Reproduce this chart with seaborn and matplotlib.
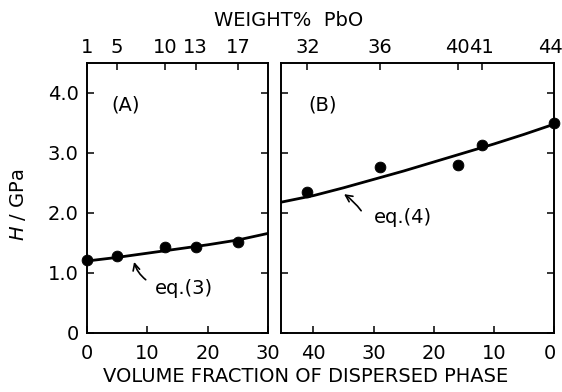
import matplotlib
matplotlib.use("Agg")
import matplotlib.pyplot as plt
import matplotlib.transforms as mtransforms
import pandas as pd
import seaborn as sns

# style: plain black-on-white, ticks pointing in
sns.set_theme(style="ticks", rc={
    "axes.edgecolor": "black",
    "axes.linewidth": 1.2,
    "xtick.color": "black",
    "ytick.color": "black",
    "text.color": "black",
    "axes.labelcolor": "black",
})
plt.rcParams['font.family'] = ['DejaVu Sans']

# --- data: panel A ---
a_vol = [0, 5, 13, 18, 25]
a_h = [1.21, 1.28, 1.43, 1.43, 1.51]
a_curve_x = [0, 5, 10, 15, 20, 25, 30]
a_curve_y = [1.20, 1.26, 1.33, 1.40, 1.47, 1.55, 1.66]
a_wt_pos = [0, 5, 13, 18, 25]
a_wt_labels = ['1', '5', '10', '13', '17']
a_xticks = [0, 10, 20, 30]

# --- data: panel B ---
b_vol = [41, 29, 16, 12, 0]
b_h = [2.35, 2.76, 2.80, 3.13, 3.50]
b_curve_x = [45.4, 40, 35, 30, 25, 20, 15, 10, 5, 0]
b_curve_y = [2.18, 2.29, 2.42, 2.56, 2.70, 2.85, 3.00, 3.15, 3.31, 3.48]
b_wt_pos = [41, 29, 16, 12, 0]
b_wt_labels = ['32', '36', '40', '41', '44']
b_xticks = [40, 30, 20, 10, 0]

yticks = [0, 1.0, 2.0, 3.0, 4.0]
ytick_labels = ['0', '1.0', '2.0', '3.0', '4.0']

pts_a = pd.DataFrame({'vol': a_vol, 'H': a_h})
fit_a = pd.DataFrame({'vol': a_curve_x, 'H': a_curve_y})
pts_b = pd.DataFrame({'vol': b_vol, 'H': b_h})
fit_b = pd.DataFrame({'vol': b_curve_x, 'H': b_curve_y})

fs = 14
fig = plt.figure(figsize=(5.62, 3.92), dpi=100)
axA = fig.add_axes([87 / 562, 1 - 333 / 392, 181 / 562, 270 / 392])
axB = fig.add_axes([281 / 562, 1 - 333 / 392, 273 / 562, 270 / 392])

tops = []
for ax, pts, fit, xlim, xt, wpos, wlab in [
        (axA, pts_a, fit_a, (0, 30), a_xticks, a_wt_pos, a_wt_labels),
        (axB, pts_b, fit_b, (45.4, 0), b_xticks, b_wt_pos, b_wt_labels)]:
    sns.lineplot(data=fit, x='vol', y='H', ax=ax, color='black', lw=2.0,
                 sort=False, estimator=None)
    sns.scatterplot(data=pts, x='vol', y='H', ax=ax, color='black', s=60,
                    edgecolor='black', zorder=5, clip_on=False)
    ax.set_xlim(*xlim)
    ax.set_ylim(0, 4.5)
    ax.set_xticks(xt)
    ax.set_xticklabels([str(v) for v in xt], fontsize=fs)
    ax.set_yticks(yticks)
    ax.set_xlabel('')
    ax.set_ylabel('')
    ax.tick_params(axis='both', direction='in', length=5, width=1.1,
                   right=True, left=True)
    ax.tick_params(axis='x', pad=8)
    # weight % scale on top
    top = ax.twiny()
    top.set_xlim(*xlim)
    top.set_xticks(wpos)
    top.set_xticklabels(wlab, fontsize=fs)
    top.tick_params(axis='x', direction='in', length=5, width=1.1, pad=4)
    tops.append(top)

# keep the right-most labels inside the canvas
shift = mtransforms.ScaledTranslation(-4 / 100, 0, fig.dpi_scale_trans)
for lab in [tops[1].get_xticklabels()[-1], axB.get_xticklabels()[-1]]:
    lab.set_transform(lab.get_transform() + shift)

axA.set_yticklabels(ytick_labels, fontsize=fs)
axA.tick_params(axis='y', pad=6)
axB.set_yticklabels([])

axA.text(6.4, 3.8, '(A)', fontsize=fs, ha='center', va='center')
axB.text(38.5, 3.8, '(B)', fontsize=fs, ha='center', va='center')

axA.text(16.1, 0.75, 'eq.(3)', fontsize=fs, ha='center', va='center')
axA.annotate('', xy=(7.7, 1.23), xytext=(10.1, 0.86),
             arrowprops=dict(arrowstyle='->', lw=1.2, color='black',
                             connectionstyle='arc3,rad=-0.2'))
axB.text(25.2, 1.93, 'eq.(4)', fontsize=fs, ha='center', va='center')
axB.annotate('', xy=(35.3, 2.34), xytext=(31.8, 2.0),
             arrowprops=dict(arrowstyle='->', lw=1.2, color='black',
                             connectionstyle='arc3,rad=0.1'))

fig.text(289 / 562, 1 - 20 / 392, 'WEIGHT%  PbO', fontsize=fs,
         ha='center', va='center')
fig.text(306 / 562, 1 - 376 / 392, 'VOLUME FRACTION OF DISPERSED PHASE',
         fontsize=fs, ha='center', va='center')
fig.text(18 / 562, 1 - 205 / 392, r'$H$ / GPa', fontsize=fs,
         rotation=90, ha='center', va='center')

fig.savefig('out.png', dpi=100, facecolor='white')
